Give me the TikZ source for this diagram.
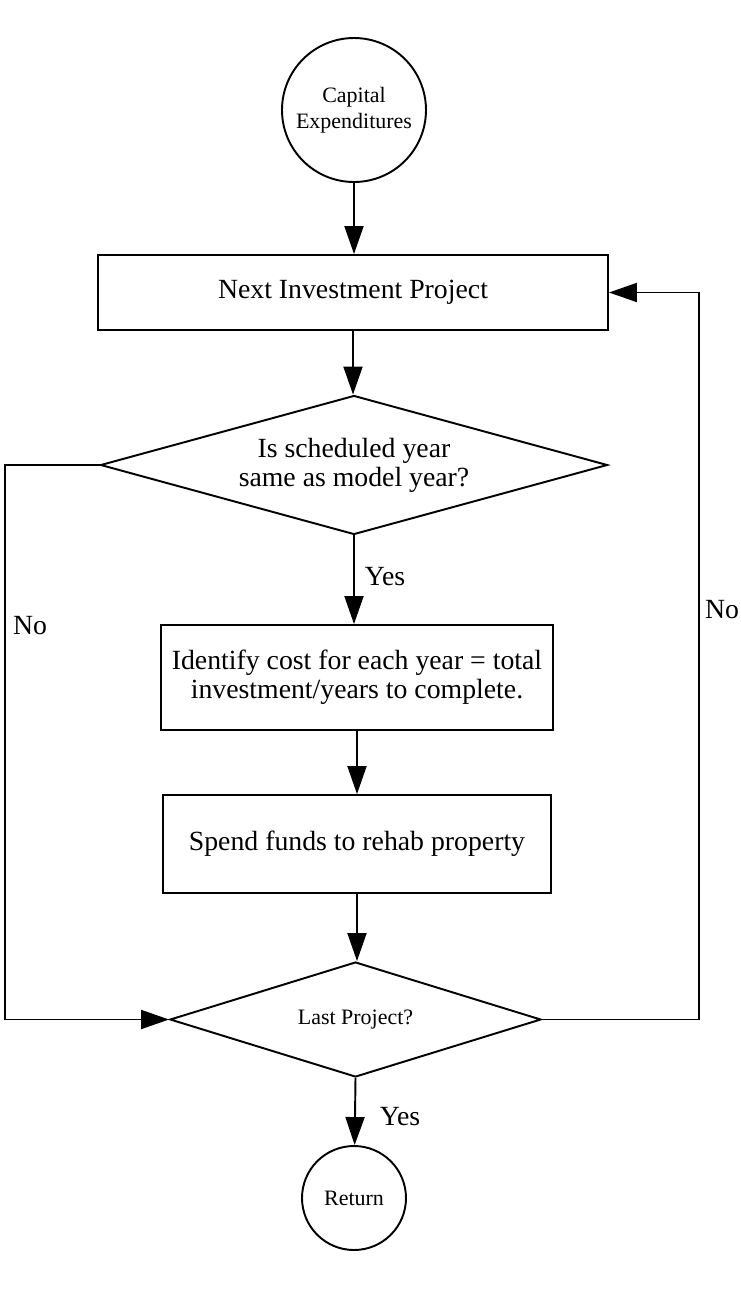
\documentclass[tikz,border=0pt]{standalone}
\usepackage{fontspec}
\setmainfont{Liberation Serif}
\usetikzlibrary{shapes.geometric,arrows.meta}
\begin{document}
\begin{tikzpicture}[
    line width=1.1pt,
    flow/.style={-{Triangle[length=5.6mm,width=3.8mm]}},
    procbox/.style={draw, rectangle, align=center, inner sep=0pt, font=\fontsize{15.8}{16.5}\selectfont},
    decide/.style={draw, diamond, align=center, inner sep=0pt},
    term/.style={draw, circle, align=center, inner sep=0pt, font=\fontsize{12.5}{15}\selectfont},
    lbl/.style={font=\fontsize{15.8}{19}\selectfont}
  ]
            \useasboundingbox (0,0) rectangle (14.82,-26.2);

            \node[term, minimum size=2.88cm] (start) at (7.08,-2.2) {Capital\\Expenditures};
            \node[procbox, minimum width=10.2cm, minimum height=1.5cm] (next) at (7.06,-5.85) {Next Investment Project};
            \node[decide, minimum width=10.14cm, minimum height=2.78cm, aspect=3.65,
                  font=\fontsize{15.8}{16.5}\selectfont] (sched) at (7.08,-9.3) {Is scheduled year\\same as model year?};
            \node[procbox, minimum width=7.84cm, minimum height=2.1cm] (cost) at (7.14,-13.55) {Identify cost for each year = total\\investment/years to complete.};
            \node[procbox, minimum width=7.76cm, minimum height=1.96cm] (spend) at (7.14,-16.88) {Spend funds to rehab property};
            \node[decide, minimum width=7.42cm, minimum height=2.3cm, aspect=3.23,
                  font=\fontsize{12.5}{15}\selectfont] (last) at (7.11,-20.39) {Last Project?};
            \node[term, minimum size=2.08cm] (ret) at (7.08,-23.96) {Return};

            \coordinate (lcorner) at (0.1,-9.3);
            \coordinate (lbottom) at (0.1,-20.39);
            \coordinate (rcorner) at (13.98,-20.39);
            \coordinate (rtop) at (13.98,-5.85);

            \draw[flow] (start) -- (start |- next.north);
            \draw[flow] (next) -- (next |- sched.north);
            \draw[flow] (sched.south) -- (sched.south |- cost.north);
            \draw[flow] (cost) -- (cost |- spend.north);
            \draw[flow] (spend) -- (spend |- last.north);
            \draw[flow] (last.south) -- (ret);
            \draw[flow] (sched.west) -- (lcorner) -- (lbottom) -- (last.west);
            \draw[flow] (last.east) -- (rcorner) -- (rtop) -- (next.east);

            \node[lbl] (yes1) at (7.7,-11.54) {Yes};
            \node[lbl] (yes2) at (8.0,-22.34) {Yes};
            \node[lbl] (no1) at (0.6,-12.52) {No};
            \node[lbl] (no2) at (14.44,-12.2) {No};
\end{tikzpicture}
\end{document}
